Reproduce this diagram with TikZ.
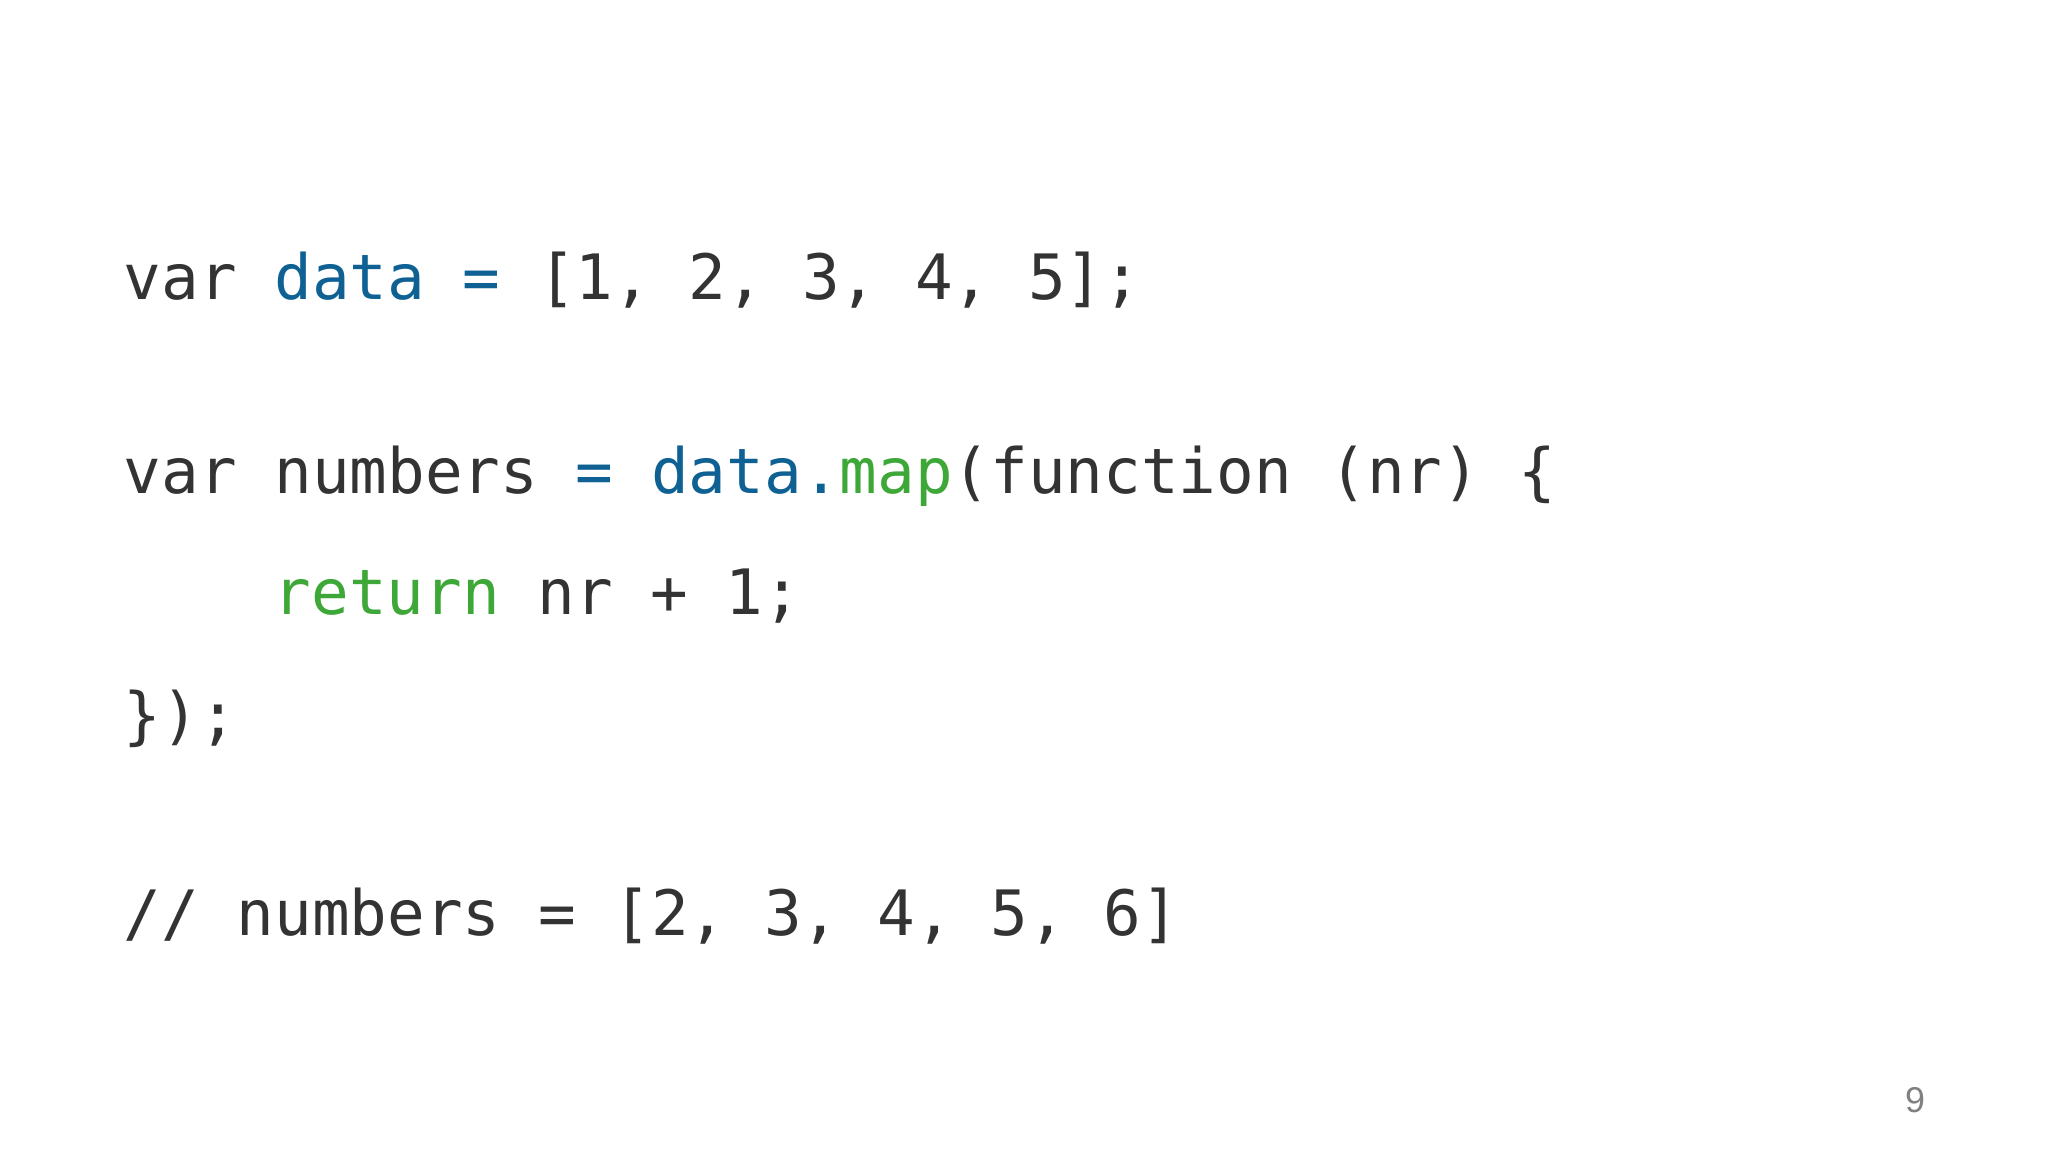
\documentclass[tikz,border=0pt]{standalone}
\usepackage{fontspec}
\setmainfont{Liberation Sans}
\setmonofont{DejaVu Sans Mono}
\usepackage{xcolor}
\definecolor{codegray}{rgb}{0.2,0.2,0.2}
\definecolor{varblue}{rgb}{0.06,0.38,0.58}
\definecolor{kwgreen}{rgb}{0.24,0.66,0.22}
\definecolor{pagegray}{rgb}{0.5,0.5,0.5}
\newcommand{\vb}[1]{\textcolor{varblue}{#1}}
\newcommand{\kw}[1]{\textcolor{kwgreen}{#1}}

\begin{document}
\begin{tikzpicture}[x=0.01cm,y=0.01cm,
  codeline/.style={anchor=base west, inner sep=0pt, text=codegray,
    font=\ttfamily\fontsize{17.8pt}{20pt}\selectfont}]
\useasboundingbox [fill=white] (0,0) rectangle (2048,1152);
\node[codeline] (ln1) at (123,852) {var \vb{data} \vb{=} [1, 2, 3, 4, 5];};
\node[codeline] (ln2) at (123,658) {var numbers \vb{=} \vb{data.}\kw{map}(function (nr) \{};
\node[codeline] (ln3) at (273,537) {\kw{return} nr + 1;};
\node[codeline] (ln4) at (123,414) {\});};
\node[codeline] (ln5) at (123,216) {// numbers = [2, 3, 4, 5, 6]};
\node[anchor=base, inner sep=0pt, text=pagegray, font=\fontsize{10.2pt}{12pt}\selectfont] (pagenum) at (1915,39) {9};
\end{tikzpicture}
\end{document}
